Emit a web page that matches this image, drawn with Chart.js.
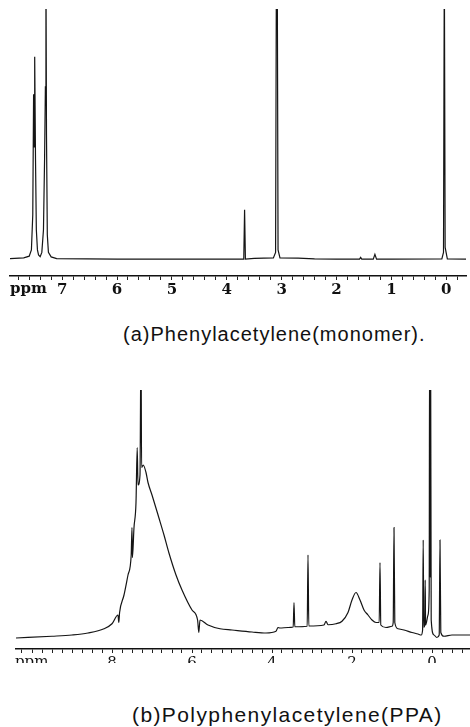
<!DOCTYPE html>
<html>
<head>
<meta charset="utf-8">
<script src="https://cdn.jsdelivr.net/npm/chart.js@4/dist/chart.umd.min.js"></script>
<style>
  body { margin: 0; background: #fff; width: 470px; height: 727px; position: relative; overflow: hidden; }
  #wrap-a { position: absolute; left: 0; top: 0; width: 470px; height: 300px; }
  #wrap-b { position: absolute; left: 0; top: 380px; width: 470px; height: 283px; overflow: hidden; }
  .caption { position: absolute; font-family: "Liberation Sans", Arial, sans-serif; color: #111; white-space: nowrap; line-height: 1; }
  #cap-a { left: 123px; top: 324px; font-size: 20px; letter-spacing: 1px; }
  #cap-b { left: 132px; top: 704px; font-size: 21px; letter-spacing: 1.4px; }
</style>
</head>
<body>
<div id="wrap-a"><canvas id="monomer-chart" width="470" height="300"></canvas></div>
<div id="wrap-b"><canvas id="polymer-chart" width="470" height="293"></canvas></div>
<div class="caption" id="cap-a">(a)Phenylacetylene(monomer).</div>
<div class="caption" id="cap-b">(b)Polyphenylacetylene(PPA)</div>
<script>
// (a) phenylacetylene monomer spectrum, chemical shift (ppm) vs intensity
const monomerPpm = [7.95, 7.7, 7.6, 7.56, 7.535, 7.52, 7.51, 7.5, 7.485, 7.47, 7.45, 7.43, 7.4, 7.37, 7.34, 7.32, 7.305, 7.295, 7.285, 7.27, 7.25, 7.2, 7.1,
  6.0, 5.0, 4.0, 3.69, 3.675, 3.66, 3.5, 3.15, 3.11, 3.095, 3.08, 3.065, 3.03, 2.7, 2.4, 2.0, 1.58, 1.56, 1.54, 1.33, 1.3, 1.27, 1.0,
  0.08, 0.05, 0.035, 0.02, -0.02, -0.36];
const monomerIntensity = [0.5, 0.8, 1.5, 4, 18, 66, 45, 81, 40, 12, 4, 2, 1.3, 3, 12, 40, 69, 120, 50, 10, 3, 1.2, 0.5,
  0.3, 0.3, 0.3, 0.3, 20, 0.3, 0.6, 0.8, 3, 120, 120, 4, 0.8, 0.7, 0.4, 0.3, 0.3, 1, 0.3, 0.3, 2.2, 0.3, 0.3,
  0.4, 3, 120, 5, 0.4, 0.3];

// (b) polyphenylacetylene spectrum
const polymerPpm = [10.4, 9.5, 9.0, 8.6, 8.2, 8.0, 7.85, 7.83, 7.81, 7.7, 7.6, 7.52, 7.5, 7.49, 7.45, 7.4, 7.37, 7.35, 7.3, 7.275, 7.26, 7.22, 7.15,
  7.1, 7.0, 6.83, 6.7, 6.58, 6.4, 6.25, 6.0, 5.86, 5.83, 5.8, 5.6, 5.3, 5.0, 4.5, 4.15, 3.9, 3.85, 3.8, 3.6, 3.47, 3.45, 3.43,
  3.12, 3.1, 3.08, 2.7, 2.65, 2.6, 2.4, 2.25, 2.1, 2.0, 1.9, 1.8, 1.7, 1.6, 1.5, 1.4, 1.32, 1.3, 1.28, 1.15, 1.0, 0.97, 0.95, 0.93,
  0.85, 0.7, 0.5, 0.35, 0.27, 0.235, 0.22, 0.205, 0.18, 0.17, 0.16, 0.1, 0.07, 0.06, 0.045, 0.035, 0.02, -0.05, -0.12, -0.18, -0.2, -0.22, -0.3, -0.5, -0.95];
const polymerIntensity = [0.8, 1.5, 2, 2.8, 4.5, 6.5, 10, 7, 11, 18, 26, 34, 45, 33, 45, 55, 77, 62, 66, 120, 69, 70, 67,
  63, 58, 49, 42, 35, 26, 20, 12, 8, 3, 8, 6, 4.5, 4, 3.2, 2.8, 3.5, 5, 4.8, 5, 5.2, 15, 5.3,
  5.5, 34, 5.6, 6, 7.5, 6.1, 6.5, 7.5, 11, 16, 19, 16, 12, 10, 8, 7, 7, 31, 6, 5, 5.5, 7, 45, 7,
  4.5, 4, 3, 2.4, 2, 4, 40, 5, 6, 24, 6, 10, 20, 120, 25, 120, 8, 2, 1, 2, 40, 3, 1.5, 2, 2];

// axis labels
const majorTicksA = [7, 6, 5, 4, 3, 2, 1, 0];
const majorTicksB = [8, 6, 4, 2, 0];

function toPoints(xs, ys) {
  return xs.map((x, i) => ({ x: x, y: ys[i] }));
}

function minorTicks(from, to, step) {
  const out = [];
  for (let v = from; v >= to - 1e-9; v -= step) out.push(Math.round(v * 100) / 100);
  return out;
}

// writes "ppm" at the left end of the tick label row
function ppmLabel(font, offset, dy) {
  return {
    id: 'ppmLabel',
    afterDraw(chart) {
      const scale = chart.scales.x;
      const ctx = chart.ctx;
      ctx.save();
      ctx.font = font;
      ctx.fillStyle = '#111';
      ctx.textBaseline = 'top';
      ctx.fillText('ppm', offset, scale.top + dy);
      ctx.restore();
    }
  };
}

function makeChart(canvas, points, range, minor, major, tickFont, padding, yRange, label, smooth) {
  return new Chart(canvas, {
    type: 'line',
    data: {
      datasets: [{
        data: points,
        borderColor: '#151515',
        borderWidth: 1.2,
        pointRadius: 0,
        tension: 0,
        cubicInterpolationMode: smooth ? 'monotone' : 'default',
        fill: false
      }]
    },
    options: {
      responsive: false,
      animation: false,
      layout: { padding: padding },
      plugins: { legend: { display: false }, tooltip: { enabled: false } },
      scales: {
        x: {
          type: 'linear',
          reverse: true,
          min: range[0],
          max: range[1],
          afterBuildTicks: scale => { scale.ticks = minor.map(v => ({ value: v })); },
          afterFit: scale => { scale.height = 24; },
          grid: { drawOnChartArea: false, tickLength: 4, tickColor: '#222', tickWidth: 1 },
          border: { display: true, color: '#111', width: 1.5 },
          ticks: {
            autoSkip: false,
            maxRotation: 0,
            padding: 1,
            color: '#111',
            font: tickFont,
            callback: v => major.some(m => Math.abs(m - v) < 1e-6) ? String(Math.round(v)) : ''
          }
        },
        y: { display: false, min: yRange[0], max: yRange[1] }
      }
    },
    plugins: [label]
  });
}

makeChart(
  document.getElementById('monomer-chart'),
  toPoints(monomerPpm, monomerIntensity),
  [-0.36, 7.95],
  minorTicks(7.8, -0.2, 0.2),
  majorTicksA,
  { family: 'DejaVu Serif', size: 15, weight: 'bold' },
  { left: 10, right: 4, top: 9, bottom: 0 },
  [-6.4, 100],
  ppmLabel('bold 15px "DejaVu Serif"', 10, 6),
  false
);

makeChart(
  document.getElementById('polymer-chart'),
  toPoints(polymerPpm, polymerIntensity),
  [-0.95, 10.4],
  minorTicks(10.25, -0.75, 0.25),
  majorTicksB,
  { family: 'DejaVu Serif', size: 15 },
  { left: 16, right: 0, top: 10, bottom: 0 },
  [-3.6, 100],
  ppmLabel('15px "DejaVu Serif"', 15, 6),
  true
);
</script>
</body>
</html>
